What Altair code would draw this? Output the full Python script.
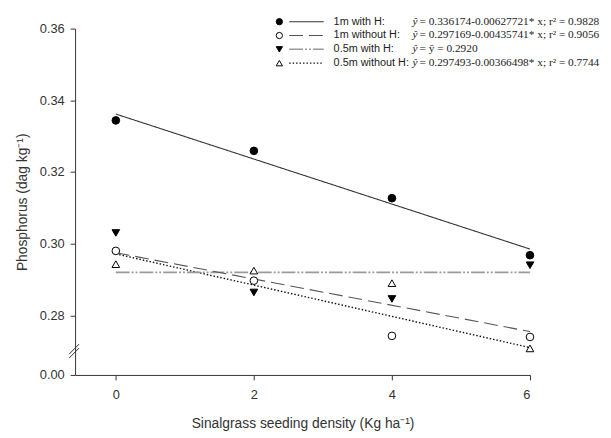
import altair as alt
import pandas as pd

# ---- data ----
X_VALUES = [0, 2, 4, 6]
SERIES = ["1m with H", "1m without H", "0.5m with H", "0.5m without H"]
Y_1M_WITH = [0.3344, 0.3259, 0.3127, 0.2968]
Y_1M_WITHOUT = [0.2980, 0.2897, 0.2743, 0.2740]
Y_05M_WITH = [0.3030, 0.2864, 0.2846, 0.2940]
Y_05M_WITHOUT = [0.2943, 0.2925, 0.2890, 0.2708]
INTERCEPTS = [0.336174, 0.297169, 0.2920, 0.297493]
SLOPES = [-0.00627721, -0.00435741, 0.0, -0.00366498]
EQUATIONS = [
    "= 0.336174-0.00627721* x; r² = 0.9828",
    "= 0.297169-0.00435741* x; r² = 0.9056",
    "= ȳ = 0.2920",
    "= 0.297493-0.00366498* x; r² = 0.7744",
]
Y_TICKS = [0.2634, 0.28, 0.30, 0.32, 0.34, 0.36]   # lowest tick is the broken-axis "0.00"
X_TICKS = [0, 2, 4, 6]
X_DOMAIN = [-0.59, 6]
Y_DOMAIN = [0.2634, 0.36]
BREAK_X = [-0.676, -0.533]
BREAK_Y1 = [0.2692, 0.2720]
BREAK_Y2 = [0.2681, 0.2709]

ys = [Y_1M_WITH, Y_1M_WITHOUT, Y_05M_WITH, Y_05M_WITHOUT]

# styles
shapes = ["circle", "circle", "triangle-down", "triangle-up"]
fills = ["black", "white", "black", "white"]
line_colors = ["#333333", "#555555", "#9a9a9a", "#111111"]
dashes = [[1, 0], [14, 6], [14, 2, 2, 2, 2, 2], [1.5, 2]]
widths = [1.1, 1.1, 1.6, 1.4]
# in the original figure the fitted lines of the two "without H" series carry each other's style
fit_style = [0, 3, 2, 1]

xs = alt.Scale(domain=X_DOMAIN, nice=False, zero=False)
ysc = alt.Scale(domain=Y_DOMAIN, nice=False, zero=False)

x_axis = alt.Axis(values=X_TICKS, title="Sinalgrass seeding density (Kg ha⁻¹)",
                  grid=False, tickSize=5, labelPadding=9, titlePadding=15,
                  labelFont="Liberation Sans", titleFont="Liberation Sans",
                  labelFontSize=13, titleFontSize=14, titleFontWeight="normal",
                  domainColor="#333", tickColor="#333", labelColor="#333", titleColor="#333")
y_axis = alt.Axis(values=Y_TICKS, title="Phosphorus (dag kg⁻¹)",
                  labelExpr="datum.value < 0.27 ? '0.00' : format(datum.value, '.2f')",
                  grid=False, tickSize=5, labelPadding=6, titlePadding=10,
                  labelFont="Liberation Sans", titleFont="Liberation Sans",
                  labelFontSize=13, titleFontSize=14, titleFontWeight="normal",
                  domainColor="#333", tickColor="#333", labelColor="#333", titleColor="#333")

X = alt.X("x:Q", scale=xs, axis=x_axis)
Y = alt.Y("y:Q", scale=ysc, axis=y_axis)

layers = []

# regression lines
for i in range(4):
    s = fit_style[i]
    fdf = pd.DataFrame({"x": [X_VALUES[0], X_VALUES[-1]]})
    fdf["y"] = INTERCEPTS[i] + SLOPES[i] * fdf["x"]
    layers.append(alt.Chart(fdf).mark_line(color=line_colors[s], strokeDash=dashes[s],
                                           strokeWidth=widths[s]).encode(x=X, y=Y))

# points
for i in range(4):
    pdf = pd.DataFrame({"x": X_VALUES, "y": ys[i]})
    layers.append(alt.Chart(pdf).mark_point(shape=shapes[i], filled=True, fill=fills[i],
                                            stroke="black", strokeWidth=1, size=60,
                                            opacity=1).encode(x=X, y=Y))

# axis break marks
for by in (BREAK_Y1, BREAK_Y2):
    bdf = pd.DataFrame({"x": BREAK_X, "y": by})
    layers.append(alt.Chart(bdf).mark_line(color="#333", strokeWidth=1, clip=False).encode(x=X, y=Y))

# legend (pixel positions)
leg = pd.DataFrame({"label": [s + ":" for s in SERIES], "eq": EQUATIONS})
ROW0, ROWSTEP = -7, 14
for i in range(4):
    ldf = leg.iloc[[i]]
    ly = alt.value(ROW0 + i * ROWSTEP)
    b = alt.Chart(ldf)
    layers.append(b.mark_point(shape=shapes[i], filled=True, fill=fills[i], stroke="black",
                               strokeWidth=1, size=40, opacity=1).encode(
        x=alt.value(207), y=ly))
    layers.append(b.mark_rule(color=line_colors[i], strokeDash=dashes[i],
                              strokeWidth=widths[i]).encode(
        x=alt.value(217), x2=alt.value(252), y=ly))
    layers.append(b.mark_text(align="left", baseline="middle", font="Liberation Sans",
                              fontSize=11, color="#222").encode(
        x=alt.value(262), y=ly, text="label:N"))
    layers.append(b.mark_text(align="left", baseline="middle", font="Liberation Serif",
                              fontSize=11.5, fontStyle="italic", color="#222").encode(
        x=alt.value(342), y=ly, text=alt.value("ŷ")))
    layers.append(b.mark_text(align="left", baseline="middle", font="Liberation Serif",
                              fontSize=11.5, color="#222").encode(
        x=alt.value(349), y=ly, text="eq:N"))

chart = alt.layer(*layers).properties(
    width=461, height=351,
    autosize=alt.AutoSizeParams(type="none"),
    padding={"left": 68, "top": 18, "right": 74, "bottom": 60},
    background="white",
).configure_view(stroke=None)

chart.save("out.html", embed_options={"renderer": "svg", "actions": False})
